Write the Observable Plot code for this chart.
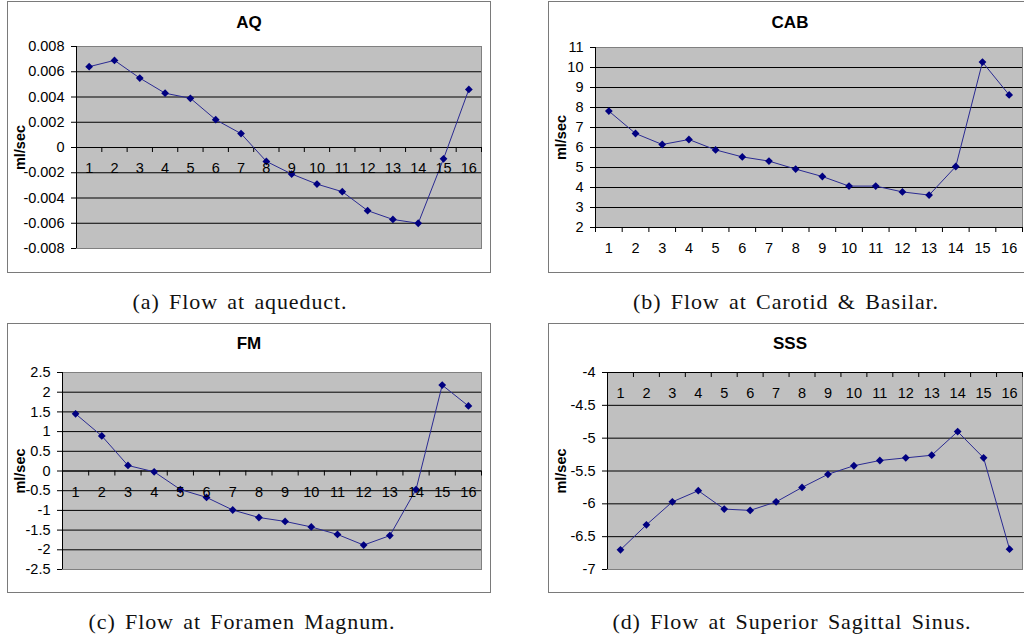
<!DOCTYPE html>
<html>
<head>
<meta charset="utf-8">
<script src="https://cdn.jsdelivr.net/npm/d3@7"></script>
<script src="https://cdn.jsdelivr.net/npm/@observablehq/plot@0.6"></script>
<style>
  body { margin: 0; background: #fff; }
  #root { position: relative; width: 1024px; height: 643px; overflow: hidden; background: #fff;
          font-family: "Liberation Sans", Arial, sans-serif; }
  .box { position: absolute; border: 1px solid #7a7a7a; box-sizing: border-box; pointer-events: none; }
  .panel { position: absolute; }
  .title { position: absolute; font-weight: bold; font-size: 17px; transform: translate(-50%, -50%);
           white-space: nowrap; color: #000; }
  .cap { position: absolute; font-family: "Liberation Serif", "Times New Roman", serif; font-size: 22px;
         letter-spacing: 0.9px; word-spacing: 3px; transform: translate(-50%, -50%); white-space: nowrap; color: #111; }
</style>
</head>
<body>
<div id="root"></div>
<script>
// ---- data ----
const categories = [1, 2, 3, 4, 5, 6, 7, 8, 9, 10, 11, 12, 13, 14, 15, 16];

const aqValues  = [0.0064, 0.0069, 0.0055, 0.0043, 0.0039, 0.0022, 0.0011, -0.0011,
                   -0.0021, -0.0029, -0.0035, -0.0050, -0.0057, -0.0060, -0.0009, 0.0046];
const cabValues = [7.82, 6.70, 6.15, 6.40, 5.88, 5.53, 5.32, 4.92,
                   4.55, 4.07, 4.07, 3.78, 3.62, 5.05, 10.27, 8.63];
const fmValues  = [1.45, 0.89, 0.14, -0.02, -0.47, -0.67, -0.99, -1.18,
                   -1.28, -1.42, -1.61, -1.88, -1.64, -0.47, 2.18, 1.65];
const sssValues = [-6.70, -6.32, -5.97, -5.80, -6.08, -6.10, -5.97, -5.75,
                   -5.55, -5.42, -5.34, -5.30, -5.26, -4.90, -5.30, -6.69];

const aqTicks  = [0.008, 0.006, 0.004, 0.002, 0, -0.002, -0.004, -0.006, -0.008];
const cabTicks = [11, 10, 9, 8, 7, 6, 5, 4, 3, 2];
const fmTicks  = [2.5, 2, 1.5, 1, 0.5, 0, -0.5, -1, -1.5, -2, -2.5];
const sssTicks = [-4, -4.5, -5, -5.5, -6, -6.5, -7];

const titles   = ["AQ", "CAB", "FM", "SSS"];
const captions = ["(a) Flow at aqueduct.", "(b) Flow at Carotid & Basilar.",
                  "(c) Flow at Foramen Magnum.", "(d) Flow at Superior Sagittal Sinus."];
const yLabel = "ml/sec";
const axisCross = [0, 2, 0, -4];   // value where the category axis crosses

// ---- layout ----
const layout = [
  {left: 7,   top: 1,   width: 484, height: 272, mt: 45, mb: 25, ml: 69, mr: 10, labelDx: -56, titleY: 23,  capX: 240, capY: 302},
  {left: 548, top: 1,   width: 484, height: 272, mt: 46, mb: 46, ml: 47, mr: 10, labelDx: -34, titleY: 23,  capX: 786, capY: 302},
  {left: 7,   top: 323, width: 484, height: 270, mt: 49, mb: 24, ml: 55, mr: 10, labelDx: -42, titleY: 344, capX: 242, capY: 622},
  {left: 548, top: 323, width: 484, height: 270, mt: 49, mb: 24, ml: 59, mr: 10, labelDx: -46, titleY: 344, capX: 792, capY: 622}
];

const series = [aqValues, cabValues, fmValues, sssValues];
const tickSets = [aqTicks, cabTicks, fmTicks, sssTicks];
const root = document.getElementById("root");
const boundaries = [0.5, ...categories.map(c => c + 0.5)];

series.forEach((vals, k) => {
  const L = layout[k];
  const ticks = tickSets[k];
  const [lo, hi] = d3.extent(ticks);
  const inner = ticks.filter(t => t !== lo && t !== hi);
  const cross = axisCross[k];
  const data = categories.map((c, i) => ({c, v: vals[i]}));

  const chart = Plot.plot({
    width: L.width,
    height: L.height,
    marginTop: L.mt, marginBottom: L.mb, marginLeft: L.ml, marginRight: L.mr,
    style: {fontFamily: '"Liberation Sans", Arial, sans-serif', fontSize: "14.5px", background: "transparent", color: "#000"},
    x: {domain: [0.5, 16.5], axis: null},
    y: {domain: [lo, hi], ticks: ticks, tickFormat: d => String(d), tickSize: 5, tickPadding: 7, label: null},
    marks: [
      Plot.frame({fill: "#c0c0c0", stroke: "none"}),
      Plot.ruleY(inner, {stroke: "#000", strokeWidth: 1}),
      Plot.frame({stroke: "#808080"}),
      Plot.ruleX([0.5], {stroke: "#000"}),
      Plot.ruleY([cross], {stroke: "#000"}),
      Plot.ruleX(boundaries, {y1: cross, y2: cross, insetBottom: -5, stroke: "#000"}),
      Plot.line(data, {x: "c", y: "v", stroke: "#2a2a92", strokeWidth: 1}),
      Plot.dot(data, {x: "c", y: "v", symbol: "diamond2", r: 3.5, fill: "#000080", stroke: "none"}),
      Plot.text(categories, {x: d => d, y: cross, dy: 21, text: d => String(d), fill: "#000", fontSize: 14.5}),
      Plot.text([yLabel], {frameAnchor: "left", textAnchor: "middle", dx: L.labelDx, rotate: -90,
                           fontWeight: "bold", fontSize: 14.5, fill: "#000"})
    ]
  });
  chart.classList.add("panel");
  chart.style.left = L.left + "px";
  chart.style.top = L.top + "px";
  root.appendChild(chart);

  const box = document.createElement("div");
  box.className = "box";
  Object.assign(box.style, {left: L.left + "px", top: L.top + "px", width: L.width + "px", height: L.height + "px"});
  root.appendChild(box);

  const t = document.createElement("div");
  t.className = "title";
  t.textContent = titles[k];
  t.style.left = (L.left + L.width / 2) + "px";
  t.style.top = L.titleY + "px";
  root.appendChild(t);

  const cap = document.createElement("div");
  cap.className = "cap";
  cap.textContent = captions[k];
  cap.style.left = L.capX + "px";
  cap.style.top = L.capY + "px";
  root.appendChild(cap);
});
</script>
</body>
</html>
